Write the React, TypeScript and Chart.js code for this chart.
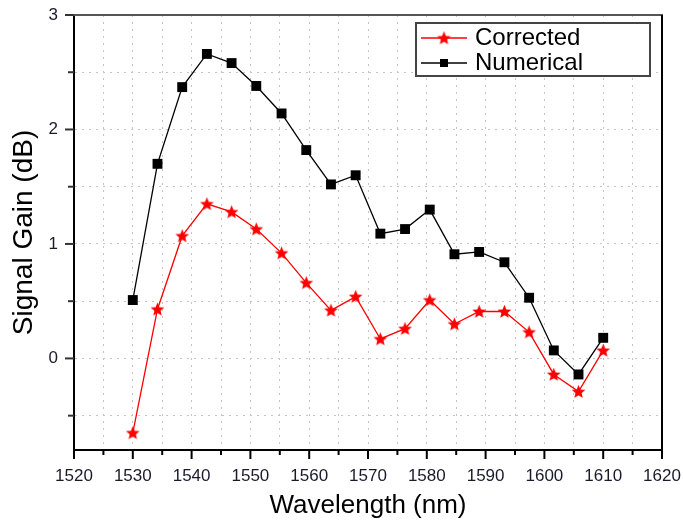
import React, { useEffect, useRef } from 'react';
import { Chart, registerables } from 'chart.js';
Chart.register(...registerables);

const wavelengths = [1530, 1534.2, 1538.4, 1542.6, 1546.8, 1551.0, 1555.3, 1559.5, 1563.7, 1567.9, 1572.1, 1576.3, 1580.5, 1584.7, 1588.9, 1593.2, 1597.4, 1601.6, 1605.8, 1610];
const numerical = [0.51, 1.70, 2.37, 2.66, 2.58, 2.38, 2.14, 1.82, 1.52, 1.60, 1.09, 1.13, 1.30, 0.91, 0.93, 0.84, 0.53, 0.07, -0.14, 0.18];
const corrected = [-0.65, 0.43, 1.07, 1.35, 1.28, 1.13, 0.92, 0.66, 0.42, 0.54, 0.17, 0.26, 0.51, 0.30, 0.41, 0.41, 0.23, -0.14, -0.29, 0.07];

const xMajorTicks = [1520, 1530, 1540, 1550, 1560, 1570, 1580, 1590, 1600, 1610, 1620];
const xMinorTicks = [1525, 1535, 1545, 1555, 1565, 1575, 1585, 1595, 1605, 1615];
const yMajorTicks = [0, 1, 2, 3];
const yMinorTicks = [-0.5, 0.5, 1.5, 2.5];

const seriesNames = ['Corrected', 'Numerical'];
const xTitle = 'Wavelength (nm)';
const yTitle = 'Signal Gain (dB)';

const FONT = "'Liberation Sans', Arial, sans-serif";

function makeStar(size: number, color: string) {
  const c = document.createElement('canvas');
  c.width = size;
  c.height = size;
  const g = c.getContext('2d')!;
  const cx = size / 2, cy = size / 2 + 0.5;
  const R = size / 2 - 0.3, r = R * 0.45;
  g.beginPath();
  for (let i = 0; i < 10; i++) {
    const rad = i % 2 === 0 ? R : r;
    const a = -Math.PI / 2 + (i * Math.PI) / 5;
    const px = cx + rad * Math.cos(a), py = cy + rad * Math.sin(a);
    if (i === 0) g.moveTo(px, py); else g.lineTo(px, py);
  }
  g.closePath();
  g.fillStyle = color;
  g.fill();
  return c;
}

export default function App() {
  const ref = useRef<HTMLCanvasElement>(null);
  useEffect(() => {
    const star = makeStar(15, '#ff0000');
    const xAll = [...xMajorTicks, ...xMinorTicks].sort((a, b) => a - b);
    const yAll = [...yMajorTicks, ...yMinorTicks].sort((a, b) => a - b);

    const decor = {
      id: 'decor',
      beforeDatasetsDraw(chart: any) {
        const { ctx, chartArea: ca, scales } = chart;
        ctx.save();
        ctx.lineWidth = 2;
        ctx.strokeStyle = '#555';
        ctx.beginPath();
        ctx.moveTo(ca.left, ca.top);
        ctx.lineTo(ca.right + 1, ca.top);
        ctx.stroke();
        ctx.strokeStyle = '#000';
        ctx.beginPath();
        ctx.moveTo(ca.right, ca.top);
        ctx.lineTo(ca.right, ca.bottom);
        ctx.stroke();
        ctx.lineWidth = 2;
        ctx.strokeStyle = '#000';
        xAll.forEach((v) => {
          const px = scales.x.getPixelForValue(v);
          const len = xMajorTicks.includes(v) ? 9 : 5;
          ctx.beginPath();
          ctx.moveTo(px, ca.bottom);
          ctx.lineTo(px, ca.bottom + len);
          ctx.stroke();
        });
        ctx.strokeStyle = '#333';
        yAll.forEach((v) => {
          const py = scales.y.getPixelForValue(v);
          const len = yMajorTicks.includes(v) ? 9 : 6;
          ctx.beginPath();
          ctx.moveTo(ca.left, py);
          ctx.lineTo(ca.left - len, py);
          ctx.stroke();
        });
        ctx.restore();
      },
      afterDraw(chart: any) {
        const { ctx } = chart;
        ctx.save();
        ctx.lineWidth = 2;
        ctx.strokeStyle = '#444';
        ctx.fillStyle = '#fff';
        ctx.fillRect(416, 23, 234, 53);
        ctx.strokeRect(416, 23, 234, 53);
        const rows = [
          { y: 38, color: '#ff0000', name: seriesNames[0], marker: 'star' },
          { y: 63, color: '#000000', name: seriesNames[1], marker: 'rect' },
        ];
        rows.forEach((r) => {
          ctx.strokeStyle = r.color;
          ctx.lineWidth = 1.5;
          ctx.beginPath();
          ctx.moveTo(421, r.y);
          ctx.lineTo(467, r.y);
          ctx.stroke();
          if (r.marker === 'star') {
            ctx.drawImage(star, 444 - 7.5, r.y - 7.5);
          } else {
            ctx.fillStyle = '#000';
            ctx.fillRect(440, r.y - 4, 8, 8);
          }
          ctx.fillStyle = '#000';
          ctx.font = `24px ${FONT}`;
          ctx.textBaseline = 'middle';
          ctx.textAlign = 'left';
          ctx.fillText(r.name, 475, r.y);
        });
        ctx.restore();
      },
    };

    const chart = new Chart(ref.current!, {
      type: 'line',
      data: {
        datasets: [
          {
            label: seriesNames[0],
            data: wavelengths.map((x, i) => ({ x, y: corrected[i] })),
            borderColor: '#ff0000',
            backgroundColor: '#ff0000',
            borderWidth: 1.3,
            pointStyle: star as any,
            pointRadius: 7,
            tension: 0,
          },
          {
            label: seriesNames[1],
            data: wavelengths.map((x, i) => ({ x, y: numerical[i] })),
            borderColor: '#000000',
            backgroundColor: '#000000',
            borderWidth: 1.3,
            pointStyle: 'rect',
            pointRadius: 7,
            pointBorderWidth: 0,
            tension: 0,
          },
        ],
      },
      options: {
        animation: false,
        responsive: false,
        devicePixelRatio: 1,
        layout: { padding: { left: 0, top: 15, right: 21, bottom: 0 } },
        plugins: { legend: { display: false }, tooltip: { enabled: false } },
        scales: {
          x: {
            type: 'linear',
            min: 1520,
            max: 1620,
            afterFit: (s: any) => { s.height = 74; s.paddingLeft = 0; s.paddingRight = 0; },
            afterBuildTicks: (s: any) => { s.ticks = xAll.map((v) => ({ value: v })); },
            ticks: {
              autoSkip: false,
              maxRotation: 0,
              padding: 16,
              color: '#1a1a2a',
              font: { family: FONT, size: 17 },
              callback: (v: any) => (xMajorTicks.includes(Number(v)) ? String(v) : ''),
            },
            grid: { color: '#c4c4c4', lineWidth: 1, drawTicks: false },
            border: { display: true, color: '#000', width: 2, dash: [2, 5] },
            title: {
              display: true,
              text: xTitle,
              color: '#000',
              font: { family: FONT, size: 26 },
              padding: { top: 0, bottom: 3 },
            },
          },
          y: {
            type: 'linear',
            min: -0.8,
            max: 3,
            afterFit: (s: any) => { s.width = 74; s.paddingTop = 0; s.paddingBottom = 0; },
            afterBuildTicks: (s: any) => { s.ticks = yAll.map((v) => ({ value: v })); },
            ticks: {
              autoSkip: false,
              padding: 16,
              color: '#1a1a2a',
              font: { family: FONT, size: 17 },
              callback: (v: any) => (yMajorTicks.includes(Number(v)) ? String(v) : ''),
            },
            grid: { color: '#c4c4c4', lineWidth: 1, drawTicks: false },
            border: { display: true, color: '#000', width: 2, dash: [2, 5] },
            title: {
              display: true,
              text: yTitle,
              color: '#000',
              font: { family: FONT, size: 28 },
              padding: { top: 7, bottom: 0 },
            },
          },
        },
      },
      plugins: [decor],
    });
    return () => chart.destroy();
  }, []);
  return (
    <div style={{ position: 'fixed', left: 0, top: 0, width: 683, height: 524, background: '#fff' }}>
      <canvas ref={ref} width={683} height={524} style={{ display: 'block', width: 683, height: 524 }} />
    </div>
  );
}
